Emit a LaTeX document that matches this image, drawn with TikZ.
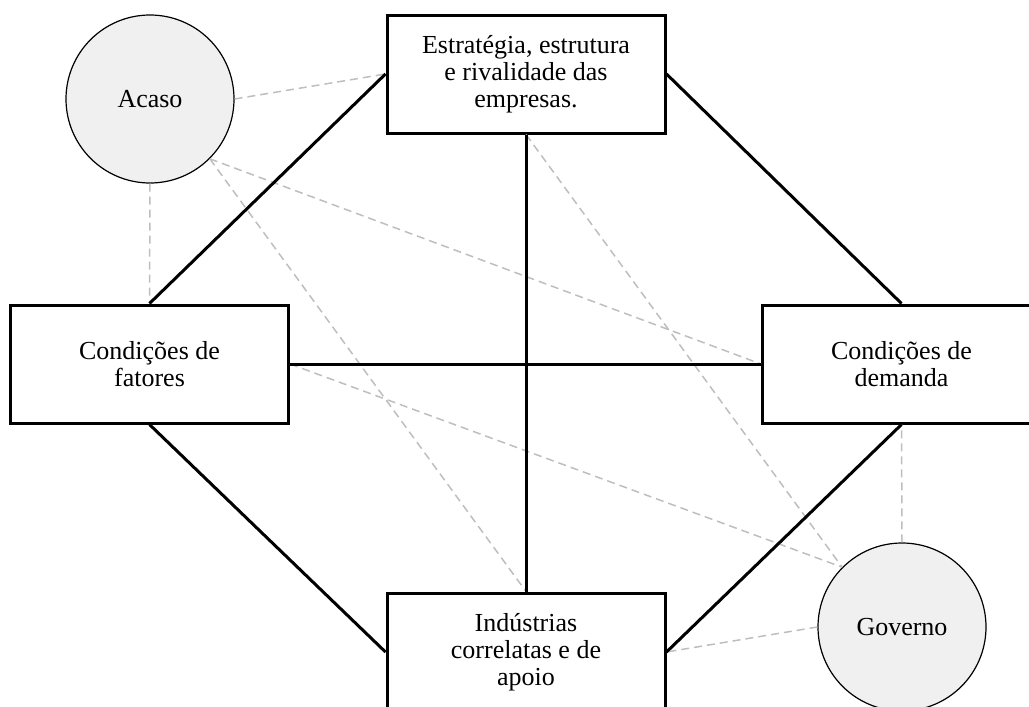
\documentclass[tikz,border=0pt]{standalone}
\usepackage{fontspec}
\setmainfont{Liberation Serif}
\definecolor{actorfill}{RGB}{240,240,240}
\definecolor{hintgray}{RGB}{190,190,190}

\begin{document}
\begin{tikzpicture}[x=1pt,y=-1pt]

\tikzset{box/.style = {shape=rectangle,draw,fill=white,line width=3pt,minimum width=278pt,minimum height=118pt,inner sep=0pt,align=center,font=\fontsize{26}{27}\selectfont}}
\tikzset{actor/.style = {shape=circle,draw,fill=actorfill,line width=1.2pt,minimum size=168pt,inner sep=0pt,font=\fontsize{26}{27}\selectfont}}
\tikzset{link/.style = {line width=3pt}}
\tikzset{hint/.style = {draw=hintgray,line width=1.5pt,dash pattern=on 8pt off 5pt}}

\useasboundingbox (0,0) rectangle (1029,707);
%boxes
\node[box] (estrategia) at (526,74) {Estratégia, estrutura\\e rivalidade das\\empresas.};
\node[box] (fatores) at (149.5,364) {Condições de\\fatores};
\node[box] (demanda) at (901.5,364) {Condições de\\demanda};
\node[box] (industrias) at (526,652) {Indústrias\\correlatas e de\\apoio};
%circles
\node[actor] (acaso) at (150,99) {Acaso};
\node[actor] (governo) at (902,627) {Governo};
%dashed links
\draw[hint] (acaso.east) -- (estrategia.west);
\draw[hint] (acaso.south) -- (fatores.north);
\draw[hint] (acaso.south east) -- (demanda.west);
\draw[hint] (acaso.south east) -- (industrias.north);
\draw[hint] (estrategia.south) -- (governo.north west);
\draw[hint] (fatores.east) -- (governo.north west);
\draw[hint] (governo.north) -- (demanda.south);
\draw[hint] (governo.west) -- (industrias.east);
%solid links
\draw[link] (estrategia.west) -- (fatores.north);
\draw[link] (estrategia.east) -- (demanda.north);
\draw[link] (estrategia.south) -- (industrias.north);
\draw[link] (fatores.east) -- (demanda.west);
\draw[link] (fatores.south) -- (industrias.west);
\draw[link] (demanda.south) -- (industrias.east);

\end{tikzpicture}
\end{document}
